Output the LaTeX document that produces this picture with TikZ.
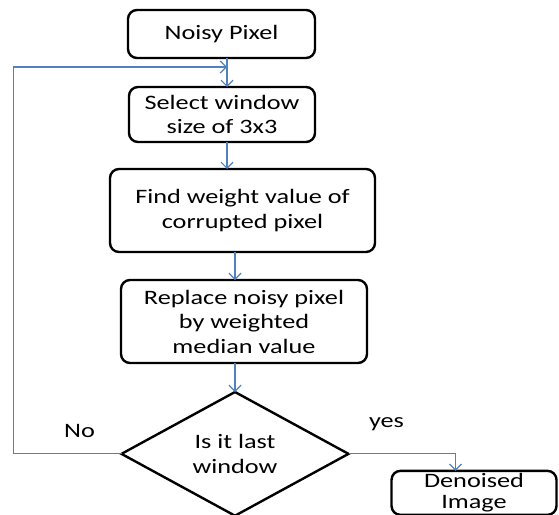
\documentclass[tikz,border=0pt]{standalone}
\usepackage{fontspec}
\setmainfont{Carlito}[FakeStretch=1.28]
\usetikzlibrary{arrows.meta,positioning,calc,shapes.geometric}
\definecolor{LineBlue}{HTML}{4F81BD}
\tikzset{
  box/.style={rounded corners=9pt, draw=black, line width=2.4pt, fill=white, align=center, inner sep=2pt, outer sep=0pt},
  decision/.style={diamond, draw=black, line width=2.4pt, fill=white, align=center, inner sep=0pt, outer sep=0pt},
  arrow/.style={-{Straight Barb[length=6pt,width=12pt]}, line width=1.2pt, draw=LineBlue}
}
\begin{document}
\begin{tikzpicture}[x=1pt, y=1pt, every node/.style={font=\fontsize{20.5}{24.5}\selectfont}]
\useasboundingbox (0,0) rectangle (559,-514);
\node[box, minimum width=187pt, minimum height=48pt] (noisy) at (221.5,-34) {Noisy Pixel};
\node[box, minimum width=186pt, minimum height=55pt, below=29pt of noisy, xshift=0.5pt] (select) {Select window\\size of 3x3};
\node[box, minimum width=265pt, minimum height=83pt, below=27pt of select, xshift=20.5pt] (find) {Find weight value of\\corrupted pixel};
\node[box, minimum width=246pt, minimum height=83pt, below=28pt of find, xshift=1.5pt] (replace) {Replace noisy pixel\\by weighted\\median value};
\node[decision, minimum width=227pt, minimum height=117pt, below=29pt of replace, xshift=-9pt] (check) {Is it last\\window};
\node[box, minimum width=165pt, minimum height=44pt, right=43pt of check, yshift=-39pt, font=\fontsize{20.5}{21}\selectfont] (denoised) {Denoised\\Image};

\node (no) at ($(check.west)+(-42pt,23pt)$) {No};
\node (yes) at ($(check.east)+(38pt,30pt)$) {yes};

\coordinate (join) at ($([xshift=5.5pt]noisy.south)+(0,-9pt)$);
\draw[arrow] ([xshift=5.5pt]noisy.south) -- ([xshift=5pt]select.north);
\draw[arrow] ([xshift=5pt]select.south) -- ([xshift=-15.5pt]find.north);
\draw[arrow] ([xshift=-7.5pt]find.south) -- ([xshift=-9pt]replace.north);
\draw[arrow] ([xshift=-9pt]replace.south) -- (check.north);
\draw[arrow] (check.west) -- ++(-108pt,0) |- (join);
\draw[arrow] (check.east) -| ([xshift=-18.5pt]denoised.north);
\end{tikzpicture}
\end{document}
